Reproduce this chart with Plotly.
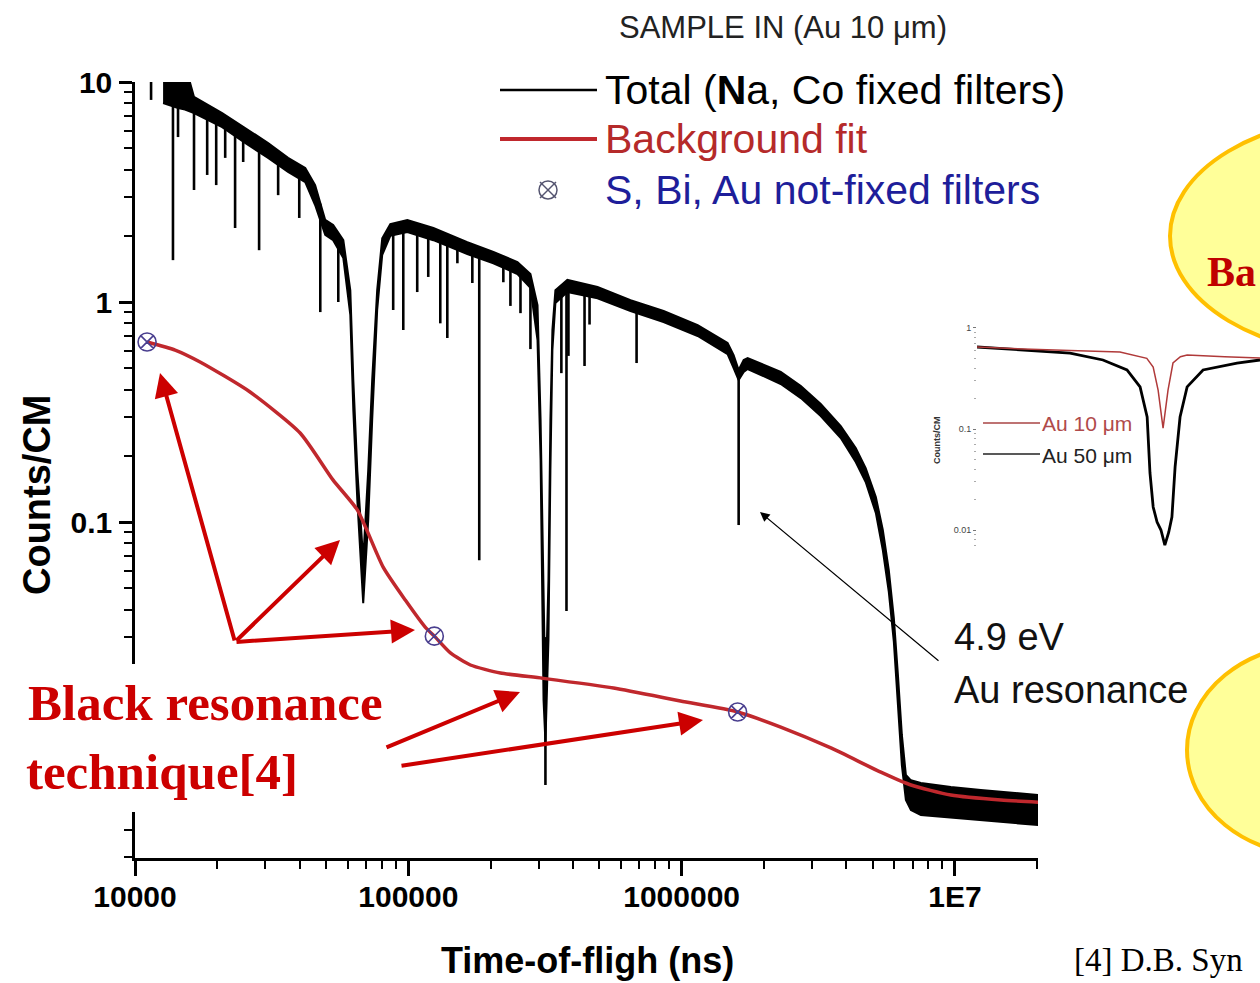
import plotly.graph_objects as go

W, H = 1260, 983

# ---------------- data ----------------
# Total spectrum (Na, Co fixed filters): upper / lower edge of the noisy band
total_tof = [12670, 14370, 15240, 16440, 20840, 25290, 30690, 36310, 41970, 45610,
             49660, 53090, 57840, 61350, 62920, 65070, 68390, 71340, 73760, 76930,
             80280, 85930, 99170, 123500, 164400, 204800, 250800, 279800, 297000, 304800,
             312500, 317500, 325700, 331100, 336700, 345300, 381900, 492300, 650300, 859000,
             1145000, 1473000, 1550000, 1617000, 1687000, 1744000, 2305000, 2731000, 3229000, 3822000,
             4336000, 4715000, 5136000, 5447000, 5729000, 5978000, 6186000, 6395000, 6616000, 6903000,
             7505000, 9661000, 12440000, 14730000, 20300000]
total_hi = [11.5, 12, 12, 8.55, 7.23, 6.18, 5.28, 4.52, 4.07, 3.40,
            2.36, 2.24, 1.91, 1.13, 0.442, 0.172, 0.0671, 0.172, 0.442, 1.13,
            1.95, 2.26, 2.36, 2.17, 1.87, 1.69, 1.52, 1.34, 0.969, 0.291,
            0.0359, 0.0155, 0.0545, 0.291, 0.746, 1.13, 1.26, 1.17, 1.02, 0.910,
            0.786, 0.651, 0.574, 0.491, 0.545, 0.556, 0.481, 0.415, 0.344, 0.273,
            0.217, 0.176, 0.130, 0.0920, 0.0605, 0.0366, 0.0202, 0.0108, 0.00708, 0.0067,
            0.00651, 0.00625, 0.00605, 0.00593, 0.00574]
total_lo = [8.03, 7.62, 7.5, 7.23, 6.24, 5.28, 4.52, 3.90, 3.51, 2.76,
            2.02, 1.91, 1.585, 0.873, 0.323, 0.126, 0.0428, 0.102, 0.291, 0.92,
            1.64, 2.00, 2.08, 1.91, 1.65, 1.50, 1.34, 1.16, 0.672, 0.191,
            0.0155, 0.0100, 0.0291, 0.172, 0.605, 0.99, 1.11, 1.04, 0.910, 0.811,
            0.701, 0.580, 0.501, 0.442, 0.481, 0.496, 0.424, 0.366, 0.303, 0.241,
            0.1875, 0.152, 0.110, 0.0746, 0.0481, 0.0285, 0.0147, 0.00786, 0.00545, 0.00491,
            0.00466, 0.00452, 0.00442, 0.00433, 0.00419]

# narrow resonance dips of the total spectrum
spike_tof = [11450, 13770, 14370, 16440, 18370, 19820, 21380, 23240, 24880, 28450,
             33400, 39900, 47630, 55430, 88040, 95850, 107800, 118300, 130900, 138900,
             151200, 171500, 181800, 222700, 236400, 257300, 279800, 317500, 363100, 379100,
             385400, 441400, 460400, 684300, 1617000]
spike_top = [10.5, 8.0, 8.0, 7.5, 7.0, 6.8, 6.4, 6.0, 5.6, 5.0,
             4.3, 3.8, 2.8, 2.0, 2.1, 2.1, 2.1, 2.0, 2.0, 1.95,
             1.9, 1.8, 1.75, 1.6, 1.55, 1.45, 1.3, 0.03, 1.15, 1.15,
             1.15, 1.12, 1.12, 0.95, 0.48]
spike_bot = [8.29, 1.55, 5.62, 3.23, 3.78, 3.40, 4.52, 2.17, 4.33, 1.72,
             3.06, 2.41, 0.90, 1.0, 0.92, 0.746, 1.11, 1.30, 0.80, 0.686,
             1.50, 1.22, 0.0671, 1.23, 0.96, 0.89, 0.611, 0.00638, 0.475, 0.0394,
             0.569, 0.512, 0.79, 0.528, 0.0969]

# Background fit
bg_tof = [11070, 14020, 17300, 26360, 40200, 53090, 65070, 80900, 97500, 115300,
          124500, 142600, 168700, 217300, 309600, 563600, 990000, 1603000, 2305000, 3516000,
          5357000, 6903000, 9661000, 14730000, 20300000]
bg_val = [0.658, 0.605, 0.534, 0.390, 0.254, 0.155, 0.1135, 0.0624, 0.0442, 0.0333,
          0.0303, 0.0254, 0.0224, 0.0206, 0.0195, 0.0176, 0.01536, 0.0137, 0.0117, 0.0094,
          0.0073, 0.00638, 0.00574, 0.00545, 0.00533]

# S, Bi, Au not-fixed filters (black resonance points)
filt_tof = [11070, 124500, 1603000]
filt_val = [0.658, 0.0303, 0.0137]

# Inset: Au 4.9 eV resonance for two thicknesses
au10_t = [1.200, 1.300, 1.463, 1.604, 1.680, 1.698, 1.712, 1.726, 1.740, 1.754, 1.775, 1.794, 1.900, 2.000]
au10_v = [0.648, 0.625, 0.600, 0.578, 0.50, 0.411, 0.243, 0.102, 0.243, 0.450, 0.52, 0.541, 0.52, 0.505]
au50_t = [1.200, 1.463, 1.556, 1.624, 1.661, 1.681, 1.689, 1.698, 1.709, 1.720,
          1.731, 1.742, 1.751, 1.760, 1.774, 1.794, 1.839, 1.935, 2.000]
au50_v = [0.648, 0.565, 0.482, 0.384, 0.261, 0.1315, 0.0367, 0.0169, 0.0120, 0.0100,
          0.0071, 0.0095, 0.01345, 0.0421, 0.1315, 0.261, 0.384, 0.450, 0.482]

x_tickvals = [1e4, 1e5, 1e6, 1e7]
x_ticktext = ["10000", "100000", "1000000", "1E7"]
y_tickvals = [0.01, 0.1, 1, 10]
y_ticktext = ["", "0.1", "1", "10"]   # 0.01 label is hidden behind the text box in the original

# ---------------- helpers (layout positions) ----------------
def px(x):
    return x / W


def py(y):
    return 1 - y / H


minor_x = [m * 10 ** e for e in range(4, 8) for m in range(2, 10) if m * 10 ** e <= 2.02e7]
minor_y = [m * 10.0 ** e for e in range(-3, 1) for m in range(2, 10)]

fig = go.Figure()

# noisy band of total spectrum
fig.add_trace(go.Scatter(
    x=total_tof + total_tof[::-1], y=total_hi + total_lo[::-1],
    mode="lines", fill="toself", fillcolor="black",
    line=dict(color="black", width=2), hoverinfo="skip", showlegend=False))

# narrow dips
sx, sy = [], []
for t, a, b in zip(spike_tof, spike_top, spike_bot):
    sx += [t, t, None]
    sy += [a, b, None]
fig.add_trace(go.Scatter(x=sx, y=sy, mode="lines", line=dict(color="black", width=2.6),
                         hoverinfo="skip", showlegend=False))

# background fit
fig.add_trace(go.Scatter(x=bg_tof, y=bg_val, mode="lines",
                         line=dict(color="#C0282D", width=3.5, shape="spline", smoothing=0.6),
                         showlegend=False))

# filter points
fig.add_trace(go.Scatter(x=filt_tof, y=filt_val, mode="markers",
                         marker=dict(symbol="circle-x-open", size=18, color="#4A3F8F",
                                     line=dict(width=1.6)),
                         showlegend=False))

# inset traces
fig.add_trace(go.Scatter(x=au50_t, y=au50_v, mode="lines", xaxis="x2", yaxis="y2",
                         line=dict(color="black", width=2.8), showlegend=False))
fig.add_trace(go.Scatter(x=au10_t, y=au10_v, mode="lines", xaxis="x2", yaxis="y2",
                         line=dict(color="#B03A3A", width=1.5), showlegend=False))

tickfont = dict(family="Liberation Sans", size=30, color="black", weight="bold")

fig.update_layout(
    width=W, height=H, margin=dict(l=0, r=0, t=0, b=0),
    paper_bgcolor="white", plot_bgcolor="white", showlegend=False,
    xaxis=dict(domain=[px(135), px(1038)], type="log", range=[4, 7.304], anchor="y",
               showline=True, linecolor="black", linewidth=2.5,
               ticks="outside", ticklen=15, tickwidth=2.5, tickcolor="black",
               tickvals=x_tickvals, ticktext=x_ticktext, tickfont=tickfont,
               ticklabelstandoff=-5,
               minor=dict(ticks="outside", ticklen=8, tickwidth=2, tickcolor="black", tickvals=minor_x),
               showgrid=False, zeroline=False, automargin=False),
    yaxis=dict(domain=[py(858), py(82)], type="log", range=[-2.527, 1.0], anchor="x",
               showline=True, linecolor="black", linewidth=2.5,
               ticks="outside", ticklen=13, tickwidth=2.5, tickcolor="black",
               tickvals=y_tickvals, ticktext=y_ticktext, tickfont=tickfont,
               ticklabelstandoff=1,
               minor=dict(ticks="outside", ticklen=8, tickwidth=2, tickcolor="black", tickvals=minor_y),
               showgrid=False, zeroline=False, automargin=False),
    xaxis2=dict(domain=[px(977), 1.0], range=[1.2, 2.0], anchor="y2", visible=False),
    yaxis2=dict(domain=[py(548), py(320)], type="log", range=[-2.178, 0.079], anchor="x2",
                showline=False, ticks="outside", ticklen=3, tickwidth=1, tickcolor="#777",
                tickvals=[0.01, 0.1, 1], ticktext=["0.01", "0.1", "1"],
                tickfont=dict(family="Liberation Sans", size=9, color="#444"),
                minor=dict(ticks="outside", ticklen=2, tickwidth=1, tickcolor="#aaa",
                           tickvals=[m * 10.0 ** e for e in range(-3, 0) for m in range(2, 10)]),
                showgrid=False, zeroline=False, automargin=False),
)

shapes = []
# legend lines
shapes.append(dict(type="line", xref="paper", yref="paper", x0=px(500), x1=px(597), y0=py(90), y1=py(90),
                   line=dict(color="black", width=2.5)))
shapes.append(dict(type="line", xref="paper", yref="paper", x0=px(500), x1=px(597), y0=py(139), y1=py(139),
                   line=dict(color="#C0282D", width=4)))
# legend marker (circle with x)
shapes.append(dict(type="circle", xref="paper", yref="paper", x0=px(539), x1=px(557), y0=py(199), y1=py(181),
                   line=dict(color="#555570", width=1.5)))
shapes.append(dict(type="line", xref="paper", yref="paper", x0=px(540), x1=px(556), y0=py(182), y1=py(198),
                   line=dict(color="#555570", width=1.5)))
shapes.append(dict(type="line", xref="paper", yref="paper", x0=px(540), x1=px(556), y0=py(198), y1=py(182),
                   line=dict(color="#555570", width=1.5)))
# inset legend lines
shapes.append(dict(type="line", xref="paper", yref="paper", x0=px(983), x1=px(1040), y0=py(423), y1=py(423),
                   line=dict(color="#A84545", width=1.5)))
shapes.append(dict(type="line", xref="paper", yref="paper", x0=px(983), x1=px(1040), y0=py(454), y1=py(454),
                   line=dict(color="#222", width=1.5)))
# white box behind the "Black resonance technique" text (hides the axis there)
shapes.append(dict(type="rect", xref="paper", yref="paper", layer="above",
                   x0=px(18), x1=px(388), y0=py(812), y1=py(664),
                   fillcolor="white", line=dict(width=0)))
# yellow ellipses on the right
shapes.append(dict(type="circle", xref="paper", yref="paper", layer="above",
                   x0=px(1170), x1=px(1570), y0=py(356), y1=py(116),
                   fillcolor="#FFFF99", line=dict(color="#FFC000", width=4)))
shapes.append(dict(type="circle", xref="paper", yref="paper", layer="above",
                   x0=px(1187), x1=px(1447), y0=py(856), y1=py(644),
                   fillcolor="#FFFF99", line=dict(color="#FFC000", width=4)))

ann = []
sans = "Liberation Sans"


def text(t, x, y, size, color="black", xanchor="left", family=sans, weight="normal", angle=0):
    ann.append(dict(text=t, xref="paper", yref="paper", x=px(x), y=py(y), xanchor=xanchor, yanchor="middle",
                    showarrow=False, textangle=angle, borderpad=0,
                    font=dict(family=family, size=size, color=color, weight=weight)))


text("SAMPLE IN (Au 10 μm)", 783, 27, 31, "#222", xanchor="center")
text("Total (<b>N</b>a, Co fixed filters)", 604, 90, 41, "black")
text("Background fit", 604, 139, 41, "#B52A2A")
text("S, Bi, Au not-fixed filters", 604, 190, 41, "#1E1E9A")
text("Time-of-fligh (ns)", 587, 960, 36, "black", xanchor="center", weight="bold")
text("Counts/CM", 37, 495, 38, "black", xanchor="center", weight="bold", angle=-90)
text("4.9 eV", 953, 637, 38, "#111")
text("Au resonance", 953, 690, 38, "#111")
text("Counts/CM", 937, 440, 9, "#333", xanchor="center", weight="bold", angle=-90)
text("Au 10 μm", 1041, 423, 21, "#B04A4A")
text("Au 50 μm", 1041, 455, 21, "#222")
text("Black resonance", 27, 703, 51, "#CC0000", family="Liberation Serif", weight="bold")
text("technique[4]", 25, 772, 51, "#CC0000", family="Liberation Serif", weight="bold")
text("Ba", 1206, 272, 42, "#C00000", family="Liberation Serif", weight="bold")
text("[4] D.B. Syn", 1073, 960, 33, "black", family="Liberation Serif")


def arrow(tail, head, color, width, size, headstyle=2):
    ann.append(dict(text="", xref="paper", yref="paper", x=px(head[0]), y=py(head[1]),
                    ax=tail[0] - head[0], ay=tail[1] - head[1], axref="pixel", ayref="pixel",
                    showarrow=True, arrowhead=headstyle, arrowsize=size, arrowwidth=width,
                    arrowcolor=color))


red = "#CC0000"
arrow((235, 642), (160, 373), red, 4, 1.2)
arrow((235, 642), (340, 540), red, 4, 1.2)
arrow((235, 642), (415, 630), red, 4, 1.2)
arrow((385, 748), (520, 692), red, 4, 1.2)
arrow((400, 766), (703, 720), red, 4, 1.2)
arrow((940, 662), (760, 512), "black", 1.2, 1.6)

fig.update_layout(shapes=shapes, annotations=ann)

fig.write_html("out.html", config={"displayModeBar": False},
               post_script="document.body.style.margin='0';")
